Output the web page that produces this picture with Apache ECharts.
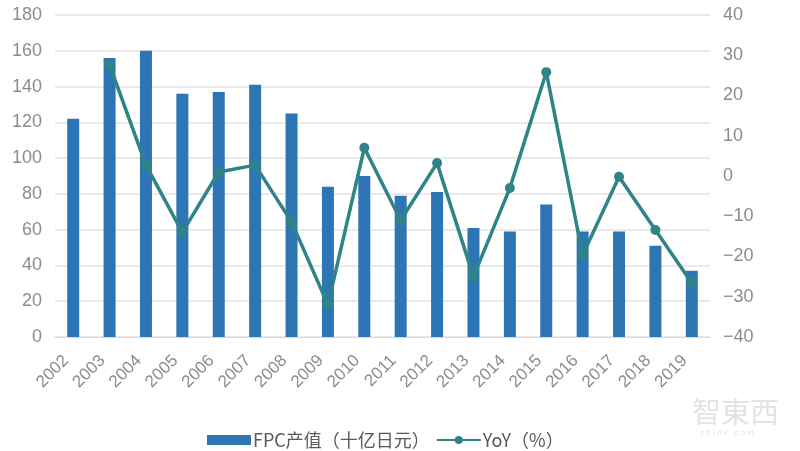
<!DOCTYPE html>
<html><head><meta charset="utf-8">
<script src="https://cdn.jsdelivr.net/npm/echarts@6/dist/echarts.min.js"></script>
<style>html,body{margin:0;padding:0;background:#fff}#c{width:800px;height:451px}</style>
</head><body><div id="c"></div>
<script>
var years = ['2002','2003','2004','2005','2006','2007','2008','2009','2010','2011','2012','2013','2014','2015','2016','2017','2018','2019'];
var fpcValue = [122,156,160,136,137,141,125,84,90,79,81,61,59,74,59,59,51,37];
var yoy = [null,27.6,2.7,-14,1,2.7,-11.4,-32,7,-11,3.2,-25,-3,25.8,-19.6,-0.2,-13.4,-26.6];
var leftTicks = {min:0,max:180,interval:20};
var rightTicks = {min:-40,max:40,interval:10};

var chart = echarts.init(document.getElementById('c'));
chart.setOption({
  animation:false,
  grid:{left:55,right:90,top:15,bottom:114},
  legend:{top:426,left:202,itemGap:6,itemWidth:44,itemHeight:10,
    textStyle:{fontSize:18,color:'#595959',fontFamily:'Noto Sans CJK SC',padding:[0,0,0,-3]},
    data:[{name:'FPC产值（十亿日元）',icon:'rect'},{name:'YoY（%）'}]},
  xAxis:{type:'category',data:years,
    axisLine:{show:true,lineStyle:{color:'#d9d9d9'}},axisTick:{show:false},
    axisLabel:{rotate:45,color:'#8c8c8c',fontSize:17,interval:0,margin:14,padding:[0,10,0,0],fontFamily:'Arial'}},
  yAxis:[
    {type:'value',min:leftTicks.min,max:leftTicks.max,interval:leftTicks.interval,
     axisLine:{show:false},axisTick:{show:false},
     splitLine:{lineStyle:{color:'#e3e3e3',width:1.5}},
     axisLabel:{color:'#8c8c8c',fontSize:18,margin:13,fontFamily:'Arial'}},
    {type:'value',min:rightTicks.min,max:rightTicks.max,interval:rightTicks.interval,
     axisLine:{show:false},axisTick:{show:false},splitLine:{show:false},
     axisLabel:{color:'#8c8c8c',fontSize:18,margin:13,fontFamily:'Arial',
       formatter:function(v){return String(v).replace('-','\u2212');}}}
  ],
  series:[
    {name:'FPC产值（十亿日元）',type:'bar',data:fpcValue,barWidth:12,
     itemStyle:{color:'#2e75b6'}},
    {name:'YoY（%）',type:'line',yAxisIndex:1,data:yoy,
     symbol:'circle',symbolSize:10,
     lineStyle:{color:'#2f8487',width:3.5},itemStyle:{color:'#2f8487'}}
  ],
  graphic:[
    {type:'text',left:692,top:397,style:{text:'智東西',fontSize:29,fill:'#e3e3e3',fontFamily:'Noto Sans CJK TC'}},
    {type:'text',left:700,top:429,style:{text:'z h i d x . c o m',fontSize:8,fill:'#e3e3e3',fontFamily:'Arial'}}
  ]
});
</script></body></html>
